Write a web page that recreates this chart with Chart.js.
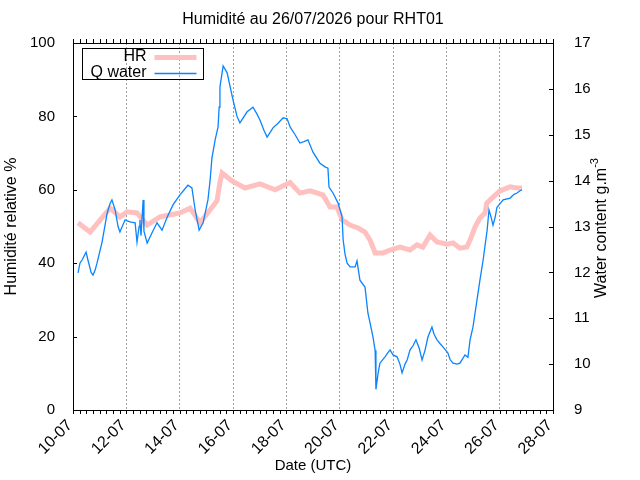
<!DOCTYPE html>
<html>
<head>
<meta charset="utf-8">
<script src="https://cdn.jsdelivr.net/npm/chart.js@4.4.0/dist/chart.umd.min.js"></script>
<style>
  html, body { margin: 0; padding: 0; background: #fff; }
</style>
</head>
<body>
<canvas id="chart" width="640" height="480"></canvas>
<script>
// days are day-of-month in July 2026 (UTC)
const hrDays = [10.19,10.64,11.39,11.76,12.03,12.40,12.78,13.26,14.01,14.39,
  14.76,15.14,15.40,15.51,15.59,15.96,16.45,17.01,17.58,18.14,
  18.51,18.89,19.37,19.64,19.90,20.09,20.39,20.69,20.95,21.14,
  21.33,21.63,21.89,22.26,22.64,22.90,23.12,23.39,23.65,24.03,
  24.25,24.51,24.77,24.89,25.08,25.26,25.45,25.52,25.75,26.01,
  26.39,26.65,26.84];
const hrValues = [51,48.5,55,52.6,54,53.7,50.4,52.6,53.7,55,
  51,54.5,57,62,64.6,62.4,60.5,61.6,60,62,
  59.1,59.7,58.6,55.3,55.3,51.8,50.4,49.6,48.5,46.3,
  42.8,42.8,43.6,44.4,43.6,45,44.4,47.7,45.8,45.2,
  45.5,44.1,44.4,46.3,49.9,52.3,53.7,56.4,58,59.7,
  60.8,60.5,60.5];

const qDays = [10.19,10.26,10.34,10.49,10.56,10.68,10.75,10.83,10.90,11.09,
  11.28,11.39,11.46,11.58,11.69,11.76,11.95,12.14,12.33,12.40,
  12.48,12.51,12.55,12.63,12.66,12.78,12.96,13.15,13.34,13.53,
  13.75,14.01,14.31,14.46,14.58,14.73,14.88,15.06,15.14,15.21,
  15.33,15.44,15.48,15.51,15.63,15.78,16.00,16.15,16.26,16.53,
  16.75,16.90,17.01,17.16,17.28,17.50,17.69,17.88,18.03,18.14,
  18.33,18.51,18.66,18.81,19.00,19.26,19.45,19.56,19.60,19.75,
  19.94,20.09,20.13,20.20,20.28,20.39,20.58,20.65,20.76,20.95,
  21.06,21.14,21.25,21.33,21.36,21.44,21.51,21.70,21.81,21.89,
  22.00,22.15,22.26,22.34,22.45,22.53,22.64,22.75,22.86,22.98,
  23.09,23.20,23.31,23.46,23.54,23.65,23.76,23.88,24.06,24.14,
  24.25,24.40,24.51,24.70,24.81,24.89,25.00,25.15,25.26,25.38,
  25.53,25.60,25.68,25.75,25.83,25.90,26.13,26.39,26.54,26.65,
  26.76,26.84];
const qValues = [11.99,12.2,12.27,12.44,12.27,12.0,11.94,12.05,12.2,12.66,
  13.29,13.5,13.58,13.36,13.0,12.88,13.14,13.1,13.08,12.66,
  13.0,13.14,12.8,13.58,12.9,12.64,12.86,13.08,12.92,13.2,
  13.47,13.69,13.9,13.84,13.36,12.92,13.08,13.58,14.0,14.49,
  14.89,15.17,15.6,16.04,16.5,16.35,15.76,15.4,15.26,15.5,
  15.6,15.45,15.32,15.1,14.95,15.15,15.25,15.37,15.35,15.17,
  15.0,14.82,14.85,14.89,14.62,14.38,14.3,14.27,13.86,13.73,
  13.51,13.21,12.71,12.4,12.2,12.12,12.12,12.25,11.83,11.68,
  11.11,10.9,10.59,10.3,9.45,9.8,10.02,10.16,10.25,10.31,
  10.2,10.16,10.0,9.81,10.0,10.09,10.31,10.4,10.53,10.35,
  10.09,10.3,10.59,10.81,10.65,10.53,10.45,10.37,10.24,10.1,
  10.02,10.0,10.02,10.2,10.15,10.53,10.81,11.4,11.83,12.27,
  12.92,13.36,13.2,13.03,13.2,13.42,13.58,13.62,13.7,13.73,
  13.78,13.8];

const xRange = [10, 28];
const hrRange = [0, 100];
const qRange = [9, 17];

const FONT = "'Liberation Sans', Arial, sans-serif";
const pad2 = n => (n < 10 ? '0' : '') + n;

// title, frame, gnuplot-like ticks and the boxed legend
const decor = {
  id: 'decor',
  afterDraw(chart) {
    const ctx = chart.ctx;
    const a = chart.chartArea;
    const x = chart.scales.x, y = chart.scales.y, y1 = chart.scales.y1;
    ctx.save();
    ctx.strokeStyle = '#000';
    ctx.lineWidth = 1;
    ctx.strokeRect(Math.round(a.left) + 0.5, Math.round(a.top) + 0.5,
      Math.round(a.right - a.left), Math.round(a.bottom - a.top));

    ctx.beginPath();
    for (let d = xRange[0]; d <= xRange[1] + 1e-9; d += 0.25) {
      const px = Math.round(x.getPixelForValue(d)) + 0.5;
      ctx.moveTo(px, a.bottom); ctx.lineTo(px, a.bottom + 4);
      ctx.moveTo(px, a.top); ctx.lineTo(px, a.top - 4);
    }
    y.ticks.forEach(t => {
      const py = Math.round(y.getPixelForValue(t.value)) + 0.5;
      ctx.moveTo(a.left, py); ctx.lineTo(a.left + 4, py);
    });
    y1.ticks.forEach(t => {
      const py = Math.round(y1.getPixelForValue(t.value)) + 0.5;
      ctx.moveTo(a.right, py); ctx.lineTo(a.right - 4, py);
    });
    ctx.stroke();

    // title
    ctx.fillStyle = '#000';
    ctx.font = '16px ' + FONT;
    ctx.textAlign = 'center';
    ctx.textBaseline = 'middle';
    ctx.fillText('Humidité au 26/07/2026 pour RHT01', (a.left + a.right) / 2, 20);

    // right axis title, read bottom to top, with superscript
    const main = 'Water content g.m', sup = '-3';
    ctx.font = '16px ' + FONT;
    const wMain = ctx.measureText(main).width;
    ctx.font = '11px ' + FONT;
    const wSup = ctx.measureText(sup).width;
    ctx.save();
    ctx.translate(606, 228);
    ctx.rotate(-Math.PI / 2);
    ctx.textAlign = 'left';
    ctx.textBaseline = 'alphabetic';
    const start = -(wMain + wSup) / 2;
    ctx.font = '16px ' + FONT;
    ctx.fillText(main, start, 0);
    ctx.font = '11px ' + FONT;
    ctx.fillText(sup, start + wMain, -8);
    ctx.restore();

    // legend
    const lx = a.left + 9.5, ly = a.top + 5.5;
    ctx.strokeRect(lx, ly, 121, 31);
    ctx.font = '16px ' + FONT;
    ctx.textAlign = 'right';
    ctx.textBaseline = 'middle';
    chart.data.datasets.forEach((ds, i) => {
      const rowY = ly + 8 + i * 16;
      ctx.fillStyle = '#000';
      ctx.fillText(ds.label, lx + 64, rowY);
      ctx.strokeStyle = ds.borderColor;
      ctx.lineWidth = ds.borderWidth;
      ctx.beginPath();
      ctx.moveTo(lx + 72, rowY + 1);
      ctx.lineTo(lx + 114, rowY + 1);
      ctx.stroke();
    });
    ctx.restore();
  }
};

new Chart(document.getElementById('chart'), {
  type: 'line',
  data: {
    datasets: [
      {
        label: 'HR',
        data: hrDays.map((d, i) => ({ x: d, y: hrValues[i] })),
        yAxisID: 'y',
        borderColor: '#ffc0c0',
        borderWidth: 5,
        pointRadius: 0,
        tension: 0,
        order: 1
      },
      {
        label: 'Q water',
        data: qDays.map((d, i) => ({ x: d, y: qValues[i] })),
        yAxisID: 'y1',
        borderColor: '#0a84ff',
        borderWidth: 1.3,
        pointRadius: 0,
        tension: 0,
        order: 0
      }
    ]
  },
  options: {
    responsive: false,
    animation: false,
    devicePixelRatio: 1,
    layout: { padding: { top: 43, left: 0, right: 0, bottom: 0 } },
    plugins: {
      legend: { display: false },
      tooltip: { enabled: false },
      title: { display: false }
    },
    scales: {
      x: {
        type: 'linear',
        position: 'bottom',
        min: xRange[0],
        max: xRange[1],
        afterFit: s => { s.height = 70; },
        ticks: {
          stepSize: 2,
          autoSkip: false,
          minRotation: 45,
          maxRotation: 45,
          padding: 6,
          labelOffset: -3,
          color: '#000',
          font: { family: FONT, size: 16 },
          callback: v => pad2(v) + '-07'
        },
        grid: {
          drawTicks: false,
          color: c => (c.tick && (c.tick.value === xRange[0] || c.tick.value === xRange[1])) ? 'rgba(0,0,0,0)' : '#a0a0a0'
        },
        border: { display: false, dash: [2, 2] },
        title: {
          display: true,
          text: 'Date (UTC)',
          color: '#000',
          font: { family: FONT, size: 15 },
          padding: { top: 0, bottom: 5 }
        }
      },
      y: {
        position: 'left',
        min: hrRange[0],
        max: hrRange[1],
        afterFit: s => { s.width = 73; },
        ticks: {
          stepSize: 20,
          padding: 10,
          color: '#000',
          font: { family: FONT, size: 15 }
        },
        grid: { display: false },
        border: { display: false },
        title: {
          display: true,
          text: 'Humidité relative %',
          color: '#000',
          font: { family: FONT, size: 16 },
          padding: { top: 2, bottom: 0 }
        }
      },
      y1: {
        position: 'right',
        min: qRange[0],
        max: qRange[1],
        afterFit: s => { s.width = 87; },
        ticks: {
          stepSize: 1,
          padding: 13,
          color: '#000',
          font: { family: FONT, size: 15 }
        },
        grid: { display: false },
        border: { display: false }
      }
    }
  },
  plugins: [decor]
});
</script>
</body>
</html>
